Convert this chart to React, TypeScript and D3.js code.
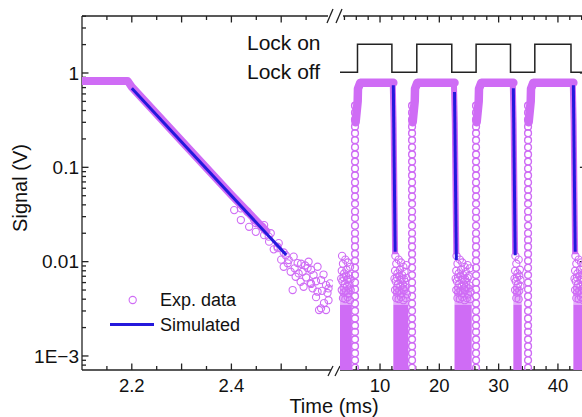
import React from "react";
import * as d3 from "d3";

const W = 582;
const H = 417;
const FONT = "'Liberation Sans', Arial, Helvetica, sans-serif";
const VIOLET = "#cf6cf5";
const BLUE = "#2418dc";
const AXIS = "#222";

// ---- tick definitions ----
const yMajorTicks = [1, 0.1, 0.01, 0.001];
const yTickLabels = ["1", "0.1", "0.01", "1E\u22123"];
const xLeftMajor = [2.2, 2.3, 2.4, 2.5];
const xLeftMinor = [2.15, 2.25, 2.35, 2.45, 2.55];
const xLeftLabelTicks = [2.2, 2.4];
const xLeftLabels = ["2.2", "2.4"];
const xRightMajor = [10, 20, 30, 40];
const xRightMinor = [4, 6, 8, 12, 14, 16, 18, 22, 24, 26, 28, 32, 34, 36, 38, 42, 44];
const xRightLabels = ["10", "20", "30", "40"];

// ---- left panel (zoom on first decay) ----
const plateauLeft: [number, number][] = [[2.1, 0.82], [2.192, 0.82]];
const decayBand: [number, number][] = [[2.192, 0.82], [2.2, 0.71], [2.3, 0.19], [2.4, 0.051], [2.47, 0.021]];
const simLeft: [number, number][] = [[2.2, 0.69], [2.51, 0.0118]];
const tailPoints: [number, number][] = [
  [2.4323, 0.0338], [2.449, 0.0257], [2.462, 0.0234], [2.479, 0.02], [2.475, 0.0184],
  [2.495, 0.0157], [2.493, 0.0139], [2.509, 0.0117], [2.515, 0.0104], [2.525, 0.0113],
  [2.533, 0.00966], [2.555, 0.00997], [2.553, 0.00855], [2.543, 0.00781], [2.573, 0.00883],
  [2.565, 0.00721], [2.523, 0.005], [2.58, 0.00638], [2.59, 0.00565], [2.573, 0.0048],
  [2.593, 0.00465], [2.576, 0.00307], [2.586, 0.00364], [2.559, 0.00593], [2.539, 0.00612],
  [2.545, 0.00542], [2.563, 0.00521], [2.529, 0.00692], [2.505, 0.00883], [2.519, 0.00781],
  [2.513, 0.0096], [2.598, 0.00589], [2.58, 0.0032], [2.59, 0.00307],
  [2.4056, 0.0352], [2.419, 0.0276], [2.4356, 0.0234], [2.449, 0.0207], [2.4657, 0.0191],
  [2.4757, 0.0163], [2.4925, 0.0144], [2.4458, 0.0276], [2.4657, 0.0244], [2.419, 0.0367],
  [2.535, 0.0075], [2.55, 0.0068], [2.56, 0.0082], [2.57, 0.0062], [2.585, 0.0073],
  [2.595, 0.0052], [2.57, 0.0042], [2.595, 0.0039], [2.548, 0.0091], [2.527, 0.0085],
  [2.582, 0.0049], [2.56, 0.0058], [2.54, 0.0095], [2.5, 0.0105], [2.505, 0.0125], [2.485, 0.0135],
];

// ---- right panel (pulse train) ----
const riseTimes = [5.78, 15.4, 26.19, 34.96];
const fallTimes = [12.24, 22.56, 32.48, 42.6];
const plateauLevels = [0.79, 0.79, 0.79, 0.79];
const simStart = [0.74, 0.63, 0.69, 0.74];
const simEnd = [0.0127, 0.0104, 0.0117, 0.0127];
const simDuration = 0.31;
const noiseBands: [number, number][] = [[3.25, 5.25], [12.24, 14.77], [22.56, 25.46], [32.48, 33.9], [42.6, 44.8]];
const noiseTop = 0.0035;
const noiseFuzz = 0.0055;
const riseColumn = [
  0.00075, 0.0009, 0.00107, 0.00127, 0.0015, 0.0018, 0.0021, 0.0025, 0.003, 0.0036,
  0.0043, 0.0051, 0.006, 0.0072, 0.0086, 0.0102, 0.0121, 0.0144, 0.017, 0.02,
  0.024, 0.029, 0.034, 0.041, 0.049, 0.058, 0.069, 0.082, 0.097, 0.115,
  0.137, 0.163, 0.194, 0.23, 0.27, 0.32, 0.38, 0.45,
];
const heapPts: [number, number][] = [
  [0.35, 0.0115], [0.5, 0.0095], [0.9, 0.0105], [1.3, 0.0098], [1.7, 0.0088], [2.2, 0.0092], [2.6, 0.0085],
  [0.3, 0.008], [0.7, 0.0075], [1.1, 0.0082], [1.5, 0.0072], [1.9, 0.0078], [2.4, 0.007], [2.8, 0.0074],
  [0.4, 0.0062], [0.8, 0.0058], [1.2, 0.0064], [1.6, 0.0057], [2.0, 0.0061], [2.5, 0.0056], [2.9, 0.006],
  [0.3, 0.005], [0.6, 0.0047], [1.0, 0.0049], [1.4, 0.0046], [1.8, 0.005], [2.3, 0.0045], [2.7, 0.0048],
  [0.5, 0.0041], [0.9, 0.004], [1.3, 0.0042], [1.7, 0.0039], [2.1, 0.0041], [2.6, 0.004],
  [0.6, 0.0068], [1.0, 0.0071], [1.4, 0.0066], [1.8, 0.0065], [2.2, 0.0067], [0.2, 0.0066],
  [0.6, 0.0053], [1.2, 0.0055], [1.6, 0.0052], [2.0, 0.0054], [2.4, 0.0052],
];
const lockOn: [number, number][] = [[6.2, 12.0], [16.2, 22.1], [26.2, 32.0], [36.1, 42.2]];

// ---- scales ----
const yScale = d3.scaleLog().domain([7.1e-4, 4.02]).range([370, 16]);
const xL = d3.scaleLinear().domain([2.1, 2.6]).range([82, 331]);
const xR = d3.scaleLinear().domain([3.25, 44.8]).range([340, 586.4]);
const lockY = d3.scaleLinear().domain([0, 1]).range([72.3, 44.3]);

const Y0 = 370;
const Y1 = 16;

function yMinorTicks(): number[] {
  const out: number[] = [];
  const [lo, hi] = yScale.domain();
  for (let d = -4; d <= 0; d++) {
    for (let m = 2; m <= 9; m++) {
      const v = m * Math.pow(10, d);
      if (v >= lo && v <= hi) out.push(v);
    }
  }
  return out;
}

export default function App() {
  const lineL = d3.line<[number, number]>().x((d) => xL(d[0])).y((d) => yScale(d[1]));
  const lineR = d3.line<[number, number]>().x((d) => xR(d[0])).y((d) => yScale(d[1]));

  const lockPts: [number, number][] = [[xR.domain()[0], 0]];
  lockOn.forEach(([a, b]) => {
    lockPts.push([a, 1]);
    lockPts.push([b, 0]);
  });
  lockPts.push([xR.domain()[1], 0]);
  const lockLine = d3
    .line<[number, number]>()
    .x((d) => xR(d[0]))
    .y((d) => lockY(d[1]))
    .curve(d3.curveStepAfter);

  const xLeftEnd = 331;
  const xRightStart = xR.range()[0];
  const xRightEnd = xR.range()[1];
  const minorY = yMinorTicks();

  return (
    <svg width={W} height={H} style={{ display: "block", position: "absolute", left: 0, top: 0, background: "#fff" }} fontFamily={FONT}>
      <defs>
        <clipPath id="clipL">
          <rect x={82} y={Y1} width={xLeftEnd + 2 - 82} height={Y0 - Y1} />
        </clipPath>
        <clipPath id="clipR">
          <rect x={336} y={Y1} width={260} height={Y0 - Y1} />
        </clipPath>
      </defs>

      {/* ---------- axes ---------- */}
      <g stroke={AXIS} strokeWidth={1.3} fill="none">
        <line x1={82} y1={Y1} x2={82} y2={Y0} />
        <line x1={xRightEnd} y1={Y1} x2={xRightEnd} y2={Y0} />
        <line x1={82} y1={Y0} x2={xLeftEnd} y2={Y0} />
        <line x1={82} y1={Y1} x2={328} y2={Y1} />
        <line x1={xRightStart} y1={Y0} x2={xRightEnd} y2={Y0} />
        <line x1={343} y1={Y1} x2={xRightEnd} y2={Y1} />
        {/* break marks */}
        <line x1={327} y1={23} x2={333} y2={9} />
        <line x1={336} y1={23} x2={342} y2={9} />
        <line x1={328} y1={376} x2={333} y2={366} />
        <line x1={335} y1={376} x2={340} y2={366} />
        {/* y ticks */}
        {yMajorTicks.map((v) => (
          <g key={"ym" + v}>
            <line x1={82} x2={88.5} y1={yScale(v)} y2={yScale(v)} />
            <line x1={xRightEnd} x2={xRightEnd - 6.5} y1={yScale(v)} y2={yScale(v)} />
          </g>
        ))}
        {minorY.map((v) => (
          <g key={"yn" + v}>
            <line x1={82} x2={86} y1={yScale(v)} y2={yScale(v)} />
            <line x1={xRightEnd} x2={xRightEnd - 4} y1={yScale(v)} y2={yScale(v)} />
          </g>
        ))}
        {/* x ticks left */}
        {xLeftMajor.map((t) => (
          <g key={"xlm" + t}>
            <line x1={xL(t)} x2={xL(t)} y1={Y0} y2={Y0 - 6.5} />
            <line x1={xL(t)} x2={xL(t)} y1={Y1} y2={Y1 + 6.5} />
          </g>
        ))}
        {xLeftMinor.map((t) => (
          <g key={"xln" + t}>
            <line x1={xL(t)} x2={xL(t)} y1={Y0} y2={Y0 - 4} />
            <line x1={xL(t)} x2={xL(t)} y1={Y1} y2={Y1 + 4} />
          </g>
        ))}
        {xRightMajor.map((t) => (
          <g key={"xrm" + t}>
            <line x1={xR(t)} x2={xR(t)} y1={Y0} y2={Y0 - 6.5} />
            <line x1={xR(t)} x2={xR(t)} y1={Y1} y2={Y1 + 6.5} />
          </g>
        ))}
        {xRightMinor.map((t) => (
          <g key={"xrn" + t}>
            <line x1={xR(t)} x2={xR(t)} y1={Y0} y2={Y0 - 4} />
            <line x1={xR(t)} x2={xR(t)} y1={Y1} y2={Y1 + 4} />
          </g>
        ))}
      </g>

      {/* tick labels */}
      <g fontSize={19} fill="#111" textAnchor="end">
        {yMajorTicks.map((v, i) => (
          <text key={"yl" + v} x={79} y={yScale(v)} dy="0.35em">
            {yTickLabels[i]}
          </text>
        ))}
      </g>
      <g fontSize={18.5} fill="#111" textAnchor="middle">
        {xLeftLabelTicks.map((t, i) => (
          <text key={"xll" + t} x={xL(t)} y={392}>
            {xLeftLabels[i]}
          </text>
        ))}
        {xRightMajor.map((t, i) => (
          <text key={"xrl" + t} x={xR(t)} y={392}>
            {xRightLabels[i]}
          </text>
        ))}
      </g>

      {/* axis titles */}
      <text x={334} y={413} fontSize={20} textAnchor="middle" fill="#111">
        Time (ms)
      </text>
      <text transform="translate(27,188) rotate(-90)" fontSize={20} textAnchor="middle" fill="#111">
        Signal (V)
      </text>

      {/* ---------- left panel data ---------- */}
      <g clipPath="url(#clipL)">
        <path d={lineL(plateauLeft) || ""} stroke={VIOLET} strokeWidth={8} fill="none" />
        <path d={lineL(decayBand) || ""} stroke={VIOLET} strokeWidth={8} fill="none" strokeLinejoin="round" strokeLinecap="round" />
        {tailPoints.map((p, i) => (
          <circle key={"tp" + i} cx={xL(p[0])} cy={yScale(p[1])} r={3.6} fill="none" stroke={VIOLET} strokeWidth={1.1} />
        ))}
        <path d={lineL(simLeft) || ""} stroke={BLUE} strokeWidth={3} fill="none" />
      </g>

      {/* ---------- right panel data ---------- */}
      <g clipPath="url(#clipR)">
        {noiseBands.map(([a, b], i) => (
          <g key={"nb" + i}>
            <rect x={xR(a)} width={xR(b) - xR(a)} y={yScale(noiseTop)} height={Y0 - yScale(noiseTop)} fill={VIOLET} />
            <rect x={xR(a)} width={xR(b) - xR(a)} y={yScale(noiseFuzz)} height={yScale(noiseTop) - yScale(noiseFuzz)} fill={VIOLET} opacity={0.55} />
            {heapPts
              .filter((p) => a + p[0] <= b - 0.2)
              .map((p, j) => (
                <circle key={"hp" + j} cx={xR(a + p[0])} cy={yScale(p[1])} r={3.6} fill="none" stroke={VIOLET} strokeWidth={1.1} />
              ))}
          </g>
        ))}
        {riseTimes.map((rt, i) => {
          const ft = fallTimes[i];
          const pl = plateauLevels[i];
          const plateau: [number, number][] = [
            [rt + 0.1, 0.3],
            [rt + 0.45, 0.5],
            [rt + 0.5, 0.68],
            [rt + 0.9, pl],
            [ft, pl],
          ];
          const fall: [number, number][] = [
            [ft - 0.1, pl],
            [ft + 0.05, 0.3],
            [ft + 0.3, 0.012],
          ];
          const sim: [number, number][] = [
            [ft, simStart[i]],
            [ft + simDuration, simEnd[i]],
          ];
          return (
            <g key={"pulse" + i}>
              {riseColumn.map((v, j) => (
                <circle key={"rc" + j} cx={xR(rt)} cy={yScale(v)} r={3.4} fill="none" stroke={VIOLET} strokeWidth={1.4} />
              ))}
              <path d={lineR(plateau) || ""} stroke={VIOLET} strokeWidth={8.5} fill="none" strokeLinejoin="round" strokeLinecap="round" />
              <path d={lineR(fall) || ""} stroke={VIOLET} strokeWidth={6} fill="none" strokeLinejoin="round" />
              <path d={lineR(sim) || ""} stroke={BLUE} strokeWidth={3} fill="none" />
            </g>
          );
        })}
        <path d={lockLine(lockPts) || ""} stroke="#222" strokeWidth={1.5} fill="none" />
      </g>

      {/* lock labels */}
      <text x={247} y={50} fontSize={21} fill="#111">
        Lock on
      </text>
      <text x={247} y={78.5} fontSize={21} fill="#111">
        Lock off
      </text>

      {/* legend */}
      <circle cx={132.7} cy={300} r={3.6} fill="none" stroke={VIOLET} strokeWidth={1.1} />
      <text x={160} y={306} fontSize={18} fill="#111">
        Exp. data
      </text>
      <line x1={110} x2={154} y1={324.5} y2={324.5} stroke={BLUE} strokeWidth={3} />
      <text x={160} y={330.5} fontSize={18} fill="#111">
        Simulated
      </text>
    </svg>
  );
}
